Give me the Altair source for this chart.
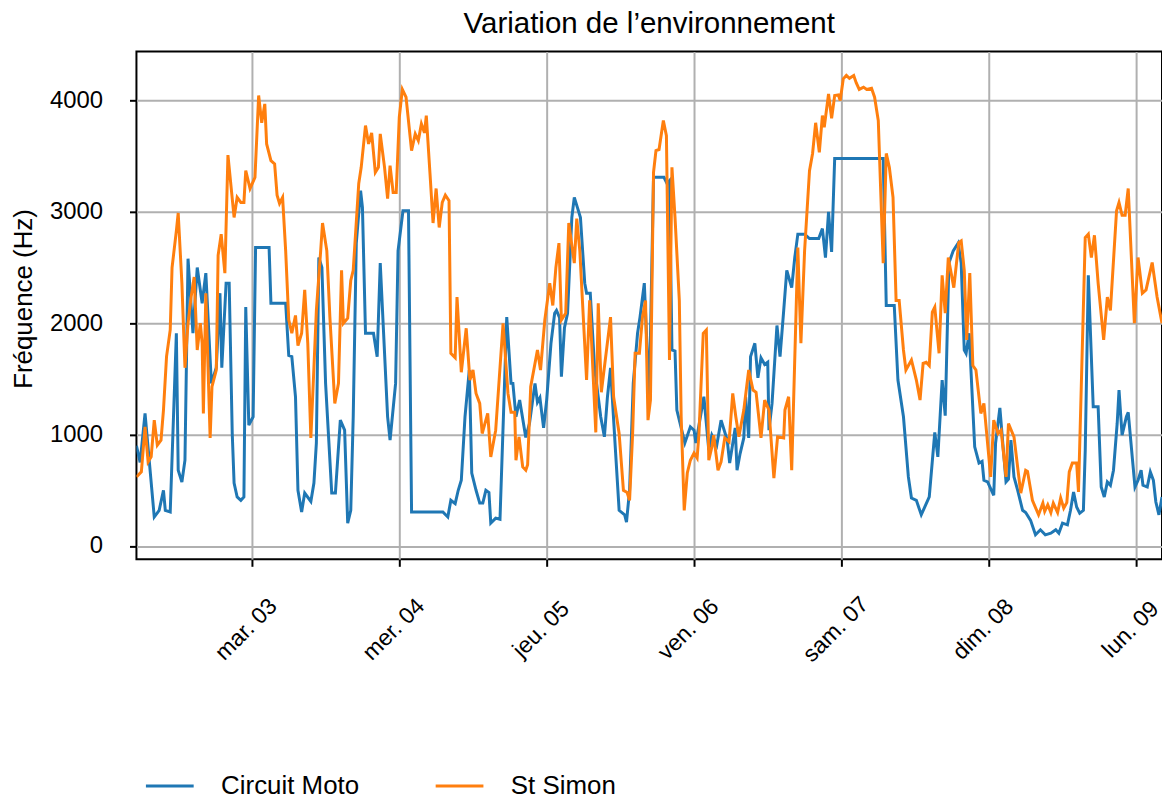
import altair as alt
import pandas as pd

series_names = ["Circuit Moto", "St Simon"]
series_colors = ["#1f77b4", "#ff7f0e"]

# hours after 2020-03-02 00:00
moto_hours = [5.2, 5.8, 6.6, 8.1, 8.9, 9.6, 9.9, 10.7, 11.7, 12.0, 12.6, 13.1, 13.6, 14.4, 15.1, 15.9,
              16.5, 17.4, 18.2, 18.8, 19.1, 19.8, 20.3, 20.8, 21.1, 21.6, 22.2, 22.7, 23.0, 23.5, 24.2,
              24.6, 26.4, 26.8, 27.1, 29.5, 30.0, 30.5, 31.1, 31.5, 32.1, 32.6, 33.6, 34.1, 34.5, 34.9,
              35.4, 36.0, 37.0, 37.6, 38.4, 39.1, 39.6, 40.1, 40.5, 41.0, 41.7, 42.0, 42.5, 43.8, 44.4,
              44.9, 46.1, 46.5, 47.4, 47.8, 48.6, 49.5, 50.0, 55.1, 55.9, 56.4, 57.1, 57.6, 58.1, 58.7,
              59.4, 59.8, 60.5, 61.1, 61.6, 62.1, 62.6, 62.9, 63.7, 64.4, 65.5, 66.2, 66.5, 67.0, 67.6,
              68.6, 69.2, 70.1, 70.5, 70.9, 71.5, 72.0, 72.7, 73.3, 73.6, 74.1, 74.4, 74.9, 75.4, 76.1,
              76.5, 77.0, 77.5, 78.2, 78.5, 79.1, 79.8, 80.8, 81.4, 81.9, 82.4, 83.2, 83.8, 84.7, 85.0,
              85.5, 86.1, 86.8, 87.2, 87.9, 88.7, 89.4, 91.1, 91.6, 92.0, 92.4, 92.9, 93.2, 94.5, 95.4,
              96.0, 96.3, 97.6, 98.4, 98.9, 99.7, 100.4, 101.4, 101.8, 102.7, 103.0, 103.5, 104.1, 104.4,
              104.9, 105.2, 105.9, 106.4, 106.9, 107.5, 108.0, 108.2, 108.7, 109.5, 110.0, 110.6, 111.1,
              111.9, 112.4, 112.9, 114.0, 114.8, 116.3, 116.9, 117.4, 117.9, 118.4, 118.9, 126.8, 127.3,
              128.6, 129.2, 130.1, 130.9, 131.4, 132.2, 133.0, 134.3, 135.2, 135.7, 136.4, 136.9, 137.5,
              138.2, 139.0, 139.5, 140.0, 140.3, 140.8, 141.7, 142.4, 142.9, 143.2, 143.8, 144.8, 145.1,
              145.8, 146.3, 146.8, 147.2, 147.6, 148.1, 148.7, 149.5, 150.0, 150.8, 151.6, 152.4, 153.2,
              154.1, 154.9, 155.4, 156.0, 156.8, 157.3, 157.8, 158.3, 158.8, 159.4, 159.7, 160.2, 161.0,
              161.8, 162.3, 162.8, 163.3, 163.8, 164.3, 164.9, 165.2, 165.7, 166.4, 166.7, 167.4, 167.8,
              168.3, 168.8, 169.1, 169.8, 170.3, 170.8, 171.2, 171.7, 172.2]
moto_hz = [900, 750, 1190, 260, 320, 500, 320, 305, 1910, 680, 575, 770, 2580, 1910, 2500, 2180,
           2450, 1460, 1600, 2270, 1600, 2360, 2360, 1010, 565, 440, 410, 440, 2145, 1085, 1160,
           2680, 2680, 2680, 2180, 2180, 1710, 1700, 1340, 500, 305, 475, 400, 565, 925, 2590,
           2500, 1460, 475, 475, 1130, 1040, 205, 320, 1160, 2720, 3190, 3040, 1910, 1910, 1700,
           2540, 1160, 950, 1460, 2650, 3010, 3010, 305, 305, 260, 410, 380, 500, 590, 1160,
           1580, 655, 500, 385, 385, 500, 480, 205, 250, 240, 2055, 1460, 1460, 1160, 1310,
           975, 1100, 1460, 1290, 1330, 1060, 1310, 1820, 2090, 2115, 2050, 1520, 1960, 2090, 2950,
           3130, 3040, 2950, 2360, 2270, 2270, 1600, 1160, 980, 1340, 1600, 860, 320, 280, 215,
           500, 1460, 1910, 2055, 2360, 1310, 3310, 3310, 3255, 3280, 1760, 1750, 1220, 925, 1070,
           1040, 925, 1340, 860, 995, 905, 1130, 950, 745, 1060, 680, 830, 970, 1340,
           970, 1700, 1820, 1510, 1690, 1630, 1650, 1040, 1280, 1980, 1700, 2115, 2475,
           2320, 2590, 2800, 2800, 2760, 2760, 2850, 2590, 3000, 2640, 3480, 3480, 2160,
           2160, 1490, 1160, 620, 430, 410, 280, 440, 1020, 800, 1490, 1170, 2540,
           2650, 2720, 2540, 1760, 1730, 1910, 890, 745, 760, 590, 575, 455, 925,
           1240, 905, 575, 600, 950, 620, 500, 320, 300, 230, 100, 145, 100,
           115, 145, 115, 205, 190, 320, 485, 350, 295, 320, 860, 2430, 1250,
           1250, 530, 440, 575, 545, 680, 1100, 1400, 995, 1160, 1200, 770, 530,
           590, 680, 545, 530, 665, 590, 395, 280, 440]

simon_hours = [5.2, 6.0, 6.6, 7.1, 7.6, 8.1, 8.6, 9.2, 9.6, 10.1, 10.7, 11.0, 11.7, 12.0, 12.6, 13.1,
               13.6, 14.1, 14.6, 15.1, 15.6, 15.9, 16.1, 16.5, 17.2, 17.5, 18.2, 18.5, 19.0, 19.6, 20.1,
               21.1, 21.6, 22.2, 22.7, 23.0, 23.7, 24.5, 25.1, 25.6, 26.1, 26.4, 27.1, 27.7, 28.1, 28.5,
               29.0, 29.5, 30.0, 30.5, 31.1, 31.5, 32.1, 32.6, 33.1, 33.6, 34.1, 34.5, 35.2, 35.5, 36.2,
               36.7, 37.5, 38.1, 38.6, 38.9, 39.6, 40.1, 40.5, 41.4, 41.8, 42.5, 43.0, 43.5, 44.1, 44.6,
               44.9, 45.6, 46.1, 46.5, 47.0, 47.5, 48.0, 48.5, 49.1, 50.0, 50.6, 51.1, 51.6, 52.1, 52.4,
               53.0, 53.5, 54.0, 54.5, 55.0, 55.5, 56.1, 56.4, 57.1, 57.4, 58.1, 58.9, 59.5, 60.0, 60.5,
               61.1, 61.5, 62.4, 62.9, 63.7, 64.9, 65.7, 66.2, 66.8, 67.0, 67.5, 68.1, 68.6, 68.9, 69.4,
               70.5, 71.0, 71.7, 72.5, 73.0, 73.5, 74.0, 74.4, 75.1, 75.6, 76.5, 76.9, 77.4, 78.5, 79.0,
               80.0, 80.4, 80.9, 82.4, 82.9, 83.8, 84.5, 85.1, 85.5, 86.0, 86.4, 87.1, 87.6, 88.1, 88.5,
               88.9, 89.4, 89.8, 90.3, 91.0, 91.5, 92.0, 92.4, 92.9, 93.6, 93.9, 94.4, 94.9, 95.4, 96.0,
               96.5, 96.8, 97.5, 98.0, 98.4, 98.9, 99.2, 99.9, 100.4, 101.0, 101.7, 102.3, 102.8, 103.3,
               104.1, 104.9, 105.6, 106.1, 106.9, 107.5, 108.2, 109.0, 109.6, 110.6, 110.8, 111.4, 111.9,
               112.9, 113.4, 114.0, 114.8, 115.3, 115.8, 116.4, 116.9, 117.2, 117.9, 118.4, 118.9, 119.5,
               119.8, 120.3, 120.8, 121.3, 122.0, 122.4, 122.9, 123.6, 124.1, 124.9, 125.4, 126.0, 126.8,
               127.3, 127.8, 128.4, 128.9, 129.4, 130.1, 130.5, 131.4, 132.2, 132.8, 133.3, 133.8, 134.3,
               134.8, 135.2, 135.9, 136.4, 136.9, 137.4, 138.3, 139.1, 139.5, 140.0, 140.4, 140.9, 141.4,
               141.9, 142.7, 143.2, 144.3, 144.8, 145.5, 146.0, 146.8, 147.2, 148.1, 149.2, 150.0, 150.3,
               151.1, 152.1, 152.8, 153.1, 153.6, 154.1, 154.5, 155.2, 155.7, 156.2, 156.7, 157.1, 157.6,
               158.3, 158.6, 159.7, 160.2, 160.7, 161.2, 161.8, 162.7, 163.3, 163.8, 164.8, 165.2, 165.7,
               166.2, 166.7, 167.7, 168.3, 169.0, 169.6, 170.6, 171.4, 172.2]
simon_hz = [620, 665, 1070, 755, 800, 1130, 905, 950, 1220, 1700, 1940, 2500, 2830, 2990, 2360, 1600,
            2000, 2235, 2415, 1760, 2000, 1820, 1190, 2270, 970, 1430, 1580, 2610, 2800, 2450, 3510,
            2950, 3130, 3085, 3085, 3370, 3210, 3310, 4045, 3800, 3970, 3610, 3460, 3430, 3150, 3075,
            3130, 2650, 2030, 1910, 2070, 1800, 1910, 2300, 1820, 970, 1600, 2115, 2650, 2900, 2650,
            2055, 1280, 1460, 2475, 2000, 2045, 2385, 2475, 3255, 3400, 3775, 3610, 3710, 3355, 3400,
            3700, 3400, 3120, 3415, 3175, 3175, 3850, 4100, 4030, 3550, 3700, 3640, 3790, 3710, 3865,
            3345, 2900, 3210, 2860, 3085, 3150, 3100, 1730, 1690, 2235, 1560, 1955, 1490, 1580, 1370,
            1280, 1010, 1190, 800, 1040, 2000, 1370, 1200, 1200, 770, 980, 710, 680, 730, 1430,
            1760, 1580, 2030, 2360, 2160, 2500, 2720, 2030, 2090, 2900, 2540, 2940, 2650, 1490, 2205,
            1020, 2180, 1380, 2055, 1340, 1010, 500, 480, 410, 1010, 1730, 1730, 2055, 2205, 1130,
            1310, 3355, 3550, 3560, 3820, 3685, 1670, 3400, 2950, 2205, 1160, 320, 655, 770, 835,
            790, 1010, 1910, 1940, 770, 890, 995, 680, 755, 970, 935, 1370, 1160, 980,
            1220, 1580, 1400, 1380, 970, 1310, 1220, 610, 980, 970, 1220, 1340, 680,
            2680, 1820, 2650, 3370, 3525, 3800, 3535, 3865, 3760, 4060, 3840, 4045, 4050,
            4000, 4195, 4225, 4200, 4225, 4160, 4100, 4120, 4100, 4110, 4030, 3820, 2540,
            3525, 3400, 3130, 2205, 2205, 1760, 1580, 1670, 1490, 1310, 1640, 1650, 1620,
            2100, 2145, 1730, 2430, 2090, 2590, 2320, 2725, 2740, 2475, 1850, 2450, 1620,
            1580, 1190, 1280, 620, 1130, 1010, 1040, 620, 1100, 980, 475, 680, 670,
            410, 280, 385, 310, 370, 300, 385, 300, 430, 340, 390, 665, 745,
            745, 485, 2770, 2800, 2590, 2790, 2360, 1850, 2235, 2115, 3010, 3085, 2970,
            2970, 3210, 2000, 2590, 2270, 2300, 2545, 2235, 2000]

day_ticks = [3, 4, 5, 6, 7, 8, 9]
day_names = ["dim.", "lun.", "mar.", "mer.", "jeu.", "ven.", "sam."]
y_ticks = [0, 1000, 2000, 3000, 4000]

base = pd.Timestamp("2020-03-02 00:00")


def frame(hours, vals, name):
    return pd.DataFrame({
        "time": base + pd.to_timedelta(hours, unit="h"),
        "freq": vals,
        "site": name,
    })


df = pd.concat([frame(moto_hours, moto_hz, series_names[0]),
                frame(simon_hours, simon_hz, series_names[1])], ignore_index=True)

FONT = "Liberation Sans"
names_js = "[" + ",".join("'%s'" % d for d in day_names) + "]"

x_axis = alt.Axis(
    values=[alt.DateTime(year=2020, month=3, date=d) for d in day_ticks],
    labelExpr=names_js + "[day(datum.value)] + ' ' + timeFormat(datum.value, '%d')",
    labelAngle=-45, labelAlign="center", labelBaseline="middle",
    labelPadding=63, labelOffset=-6, labelOverlap=False, labelBound=False, labelFlush=False,
    labelFontSize=23, labelFont=FONT, labelColor="black",
    tickSize=7, tickWidth=2, tickColor="black",
    domain=False, grid=True, gridColor="#b0b0b0", gridWidth=2, title=None,
)
y_axis = alt.Axis(
    values=y_ticks, format="d",
    labelPadding=27, labelFontSize=24, labelFont=FONT, labelColor="black",
    tickSize=7, tickWidth=2, tickColor="black",
    domain=False, grid=True, gridColor="#b0b0b0", gridWidth=2,
    title="Fréquence (Hz)", titleFont=FONT, titleFontSize=26, titleFontWeight="normal",
    titleColor="black", titleX=-105, titleY=248, titleAngle=270, titleAlign="center",
    titleBaseline="alphabetic",
)

chart = alt.Chart(df).mark_line(strokeWidth=3, clip=True).encode(
    x=alt.X("time:T",
            scale=alt.Scale(domain=[alt.DateTime(year=2020, month=3, date=2, hours=5, minutes=12),
                                    alt.DateTime(year=2020, month=3, date=9, hours=4, minutes=12)],
                            nice=False),
            axis=x_axis),
    y=alt.Y("freq:Q", scale=alt.Scale(domain=[-120, 4440], nice=False, zero=False), axis=y_axis),
    color=alt.Color("site:N",
                    scale=alt.Scale(domain=series_names, range=series_colors),
                    legend=alt.Legend(title=None, orient="none", legendX=8, legendY=712,
                                      direction="horizontal", symbolType="stroke",
                                      symbolSize=2300, symbolStrokeWidth=3,
                                      labelFontSize=26, labelFont=FONT, labelColor="black",
                                      labelOffset=26, columnPadding=70, padding=0)),
).properties(
    width=1030, height=510,
    title=alt.TitleParams("Variation de l’environnement", font=FONT, fontSize=29.6,
                          fontWeight="normal", color="black", anchor="middle",
                          frame="group", offset=12),
    padding={"left": 129, "top": 42, "right": 0, "bottom": 241},
    autosize="none",
).configure_view(stroke="black", strokeWidth=2)

chart.save("out.html", embed_options={"renderer": "svg", "actions": False})
